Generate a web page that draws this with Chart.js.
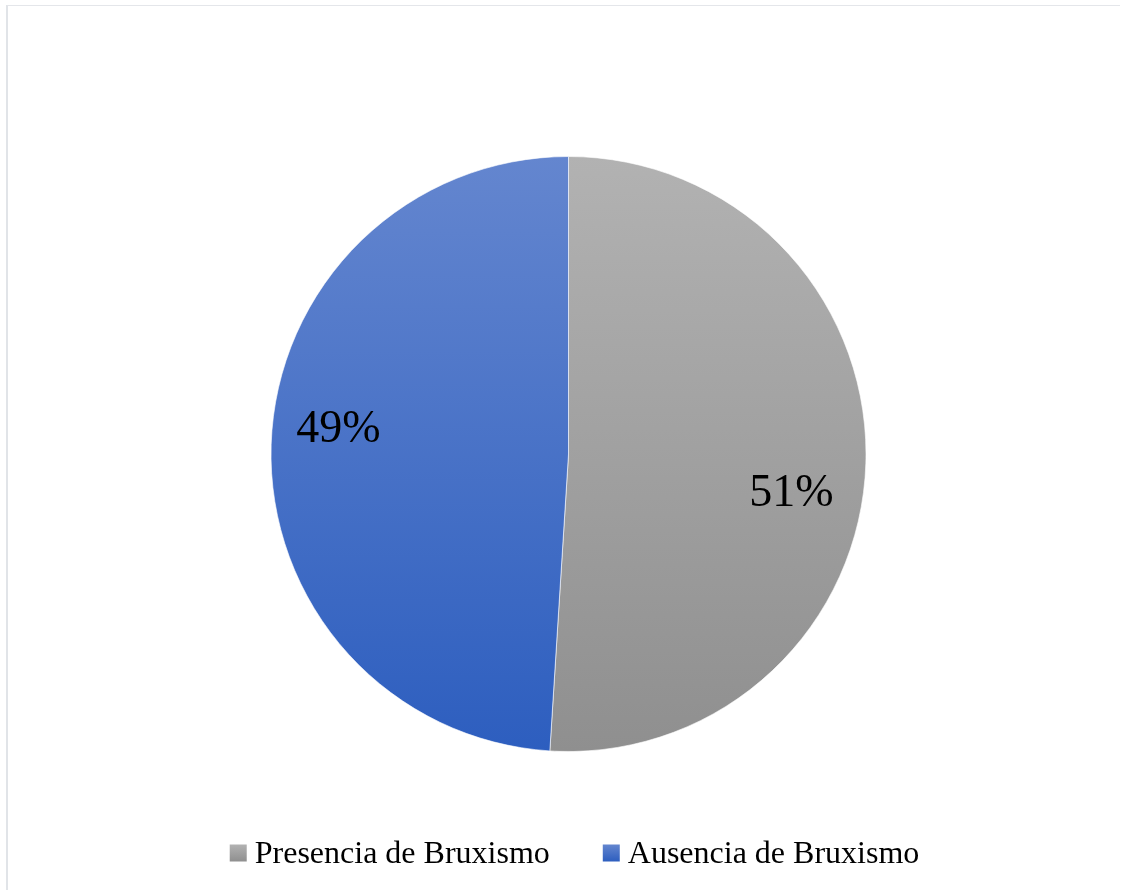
<!DOCTYPE html>
<html>
<head>
<meta charset="utf-8">
<script src="https://cdn.jsdelivr.net/npm/chart.js@4.4.1/dist/chart.umd.min.js"></script>
<style>
  html, body { margin: 0; padding: 0; background: #fff; }
  #wrap { position: relative; width: 1121px; height: 890px; overflow: hidden; }
  #frame {
    position: absolute; left: 6px; top: 5px; width: 1114px; height: 900px;
    border-top: 1px solid #e4e6ea; border-left: 2px solid #e1e4e8; box-sizing: border-box;
  }
  canvas { position: absolute; left: 0; top: 0; }
</style>
</head>
<body>
<div id="wrap">
  <div id="frame"></div>
  <canvas id="chart" width="1121" height="890"></canvas>
</div>
<script>
// Data
const categories = ['Presencia de Bruxismo', 'Ausencia de Bruxismo'];
const values = [51, 49];
const valueLabels = ['51%', '49%'];

// gradient colours per slice (top, bottom)
const gradTop = ['#b2b2b2', '#6486cf'];
const gradBottom = ['#8f8f8f', '#2d5ebf'];

const FONT = '"Liberation Serif", "Times New Roman", serif';

function sliceFill(ctx) {
  const chart = ctx.chart;
  const area = chart.chartArea;
  if (!area) return gradBottom[ctx.dataIndex];
  const g = chart.ctx.createLinearGradient(0, area.top, 0, area.bottom);
  g.addColorStop(0, gradTop[ctx.dataIndex]);
  g.addColorStop(1, gradBottom[ctx.dataIndex]);
  return g;
}

// percent labels inside slices
const labelOffsetX = [-3, -4];
const labelOffsetY = [33, -17];
const sliceLabels = {
  id: 'sliceLabels',
  afterDatasetsDraw(chart) {
    const c = chart.ctx;
    const meta = chart.getDatasetMeta(0);
    c.save();
    c.font = '46px ' + FONT;
    c.fillStyle = '#000';
    c.textAlign = 'center';
    c.textBaseline = 'middle';
    meta.data.forEach((arc, i) => {
      const p = arc.getProps(['x', 'y', 'startAngle', 'endAngle', 'outerRadius'], true);
      const mid = (p.startAngle + p.endAngle) / 2;
      const r = p.outerRadius * 0.76;
      c.fillText(valueLabels[i], p.x + Math.cos(mid) * r + labelOffsetX[i], p.y + Math.sin(mid) * r + labelOffsetY[i]);
    });
    c.restore();
  }
};

// legend along the bottom
const bottomLegend = {
  id: 'bottomLegend',
  afterDraw(chart) {
    const c = chart.ctx;
    const y = 853;
    const box = 17;
    const gap = 8;
    const spacing = 53;
    c.save();
    c.font = '32px ' + FONT;
    c.textBaseline = 'middle';
    const widths = categories.map(t => c.measureText(t).width);
    const total = widths.reduce((a, w) => a + box + gap + w, 0) + spacing * (categories.length - 1);
    let x = (chart.width - total) / 2 + 14;
    categories.forEach((t, i) => {
      const g = c.createLinearGradient(0, y - box / 2, 0, y + box / 2);
      g.addColorStop(0, gradTop[i]);
      g.addColorStop(1, gradBottom[i]);
      c.fillStyle = g;
      c.fillRect(x, y - box / 2, box, box);
      c.fillStyle = '#000';
      c.fillText(t, x + box + gap, y + 2);
      x += box + gap + widths[i] + spacing;
    });
    c.restore();
  }
};

new Chart(document.getElementById('chart'), {
  type: 'pie',
  data: {
    labels: categories,
    datasets: [{
      data: values,
      backgroundColor: sliceFill,
      borderColor: 'rgba(255,255,255,0.6)',
      borderWidth: 1
    }]
  },
  options: {
    responsive: false,
    animation: false,
    rotation: 0,
    layout: { padding: { top: 156, bottom: 138, left: 16, right: 0 } },
    plugins: {
      legend: { display: false },
      tooltip: { enabled: false }
    }
  },
  plugins: [sliceLabels, bottomLegend]
});
</script>
</body>
</html>
